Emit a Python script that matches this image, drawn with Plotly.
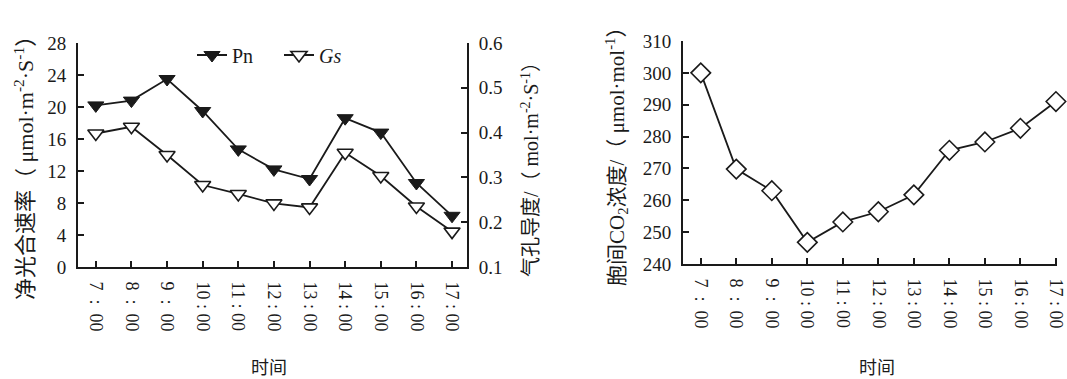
import plotly.graph_objects as go

NB = "\u00a0"
times = ["7" + NB * 2 + ":" + NB * 2 + "00", "8" + NB * 2 + ":" + NB * 2 + "00", "9" + NB * 2 + ":" + NB * 2 + "00",
         "10 : 00", "11 : 00", "12 : 00", "13 : 00", "14 : 00", "15 : 00", "16 : 00", "17 : 00"]
pn = [20.2, 20.8, 23.5, 19.5, 14.7, 12.2, 11.0, 18.6, 16.8, 10.5, 6.4]
gs = [0.398, 0.413, 0.350, 0.283, 0.263, 0.242, 0.233, 0.355, 0.303, 0.235, 0.179]
co2 = [300.0, 269.8, 263.0, 246.8, 253.2, 256.4, 261.7, 275.7, 278.3, 282.6, 291.0]

idx = list(range(len(times)))
W, H = 1067, 379
SERIF = "Liberation Serif, Times New Roman, serif"
MIX = "Liberation Serif, Noto Sans CJK SC, serif"
CJK = "Noto Sans CJK SC, Noto Sans, sans-serif"
LC = "#1a1a1a"

def px_x(v):
    return v / W

def px_y(v):
    return 1 - v / H

fig = go.Figure()
fig.add_trace(go.Scatter(
    x=idx, y=pn, name="Pn", xaxis="x", yaxis="y", mode="lines+markers",
    line=dict(color=LC, width=1.8),
    marker=dict(symbol="triangle-down", size=14, color=LC, line=dict(color=LC, width=1)),
    cliponaxis=False))
fig.add_trace(go.Scatter(
    x=idx, y=gs, name="<i>Gs</i>", xaxis="x", yaxis="y2", mode="lines+markers",
    line=dict(color=LC, width=1.8),
    marker=dict(symbol="triangle-down", size=14, color="white", line=dict(color=LC, width=1.6)),
    cliponaxis=False))
fig.add_trace(go.Scatter(
    x=idx, y=co2, name="CO2", xaxis="x2", yaxis="y3", mode="lines+markers",
    line=dict(color=LC, width=1.8),
    marker=dict(symbol="diamond", size=15, color="white", line=dict(color=LC, width=1.6)),
    cliponaxis=False, showlegend=False))

axis_common = dict(showgrid=False, zeroline=False, showline=True, linecolor=LC, linewidth=2,
                   ticks="inside", ticklen=6, tickwidth=1.5, tickcolor=LC, automargin=False,
                   tickfont=dict(family=SERIF, size=19, color=LC))
xcommon = dict(axis_common, tickvals=idx, ticktext=times, tickangle=90,
               tickfont=dict(family=SERIF, size=18, color=LC), ticklabelstandoff=9)

fig.update_layout(
    width=W, height=H, margin=dict(l=0, r=0, t=0, b=0, autoexpand=False),
    paper_bgcolor="white", plot_bgcolor="white",
    xaxis=dict(xcommon, domain=[px_x(78), px_x(467)], range=[-0.5, 10.42], anchor="y"),
    yaxis=dict(axis_common, domain=[px_y(267), px_y(43)], range=[0, 28], dtick=4, anchor="x",
               ticklabelstandoff=6),
    yaxis2=dict(axis_common, overlaying="y", side="right", range=[0.1, 0.6], dtick=0.1,
                tickformat=".1f", anchor="x", ticklabelstandoff=6),
    xaxis2=dict(xcommon, domain=[px_x(683), px_x(1057)], range=[-0.5, 10.03], anchor="y3"),
    yaxis3=dict(axis_common, domain=[px_y(264), px_y(41)], range=[240, 310], dtick=10,
                anchor="x2", ticklabelstandoff=6),
    showlegend=True,
    legend=dict(orientation="h", x=px_x(192), y=px_y(55), xanchor="left", yanchor="middle",
                font=dict(family=SERIF, size=20, color=LC), bgcolor="rgba(0,0,0,0)",
                entrywidth=42, entrywidthmode="pixels", tracegroupgap=0),
)

ann = [
    dict(text="净光合速率（ μmol·m<sup>-2</sup>·S<sup>-1</sup>）", x=px_x(24), y=px_y(163), textangle=-90,
         font=dict(family=MIX, size=22, color=LC)),
    dict(text="气孔导度/（ mol·m<sup>-2</sup>·S<sup>-1</sup>）", x=px_x(530), y=px_y(165), textangle=-90,
         font=dict(family=MIX, size=20, color=LC)),
    dict(text="胞间CO<sub>2</sub>浓度/（ μmol·mol<sup>-1</sup>）", x=px_x(616), y=px_y(152), textangle=-90,
         font=dict(family=MIX, size=21, color=LC)),
    dict(text="时间", x=px_x(269), y=px_y(366), font=dict(family=CJK, size=18, color=LC)),
    dict(text="时间", x=px_x(877), y=px_y(366), font=dict(family=CJK, size=18, color=LC)),
]
for a in ann:
    a.update(xref="paper", yref="paper", showarrow=False, xanchor="center", yanchor="middle")
fig.update_layout(annotations=ann)

fig.write_html("out.html", config={"displayModeBar": False},
               post_script="document.body.style.margin='0';document.body.style.padding='0';")
